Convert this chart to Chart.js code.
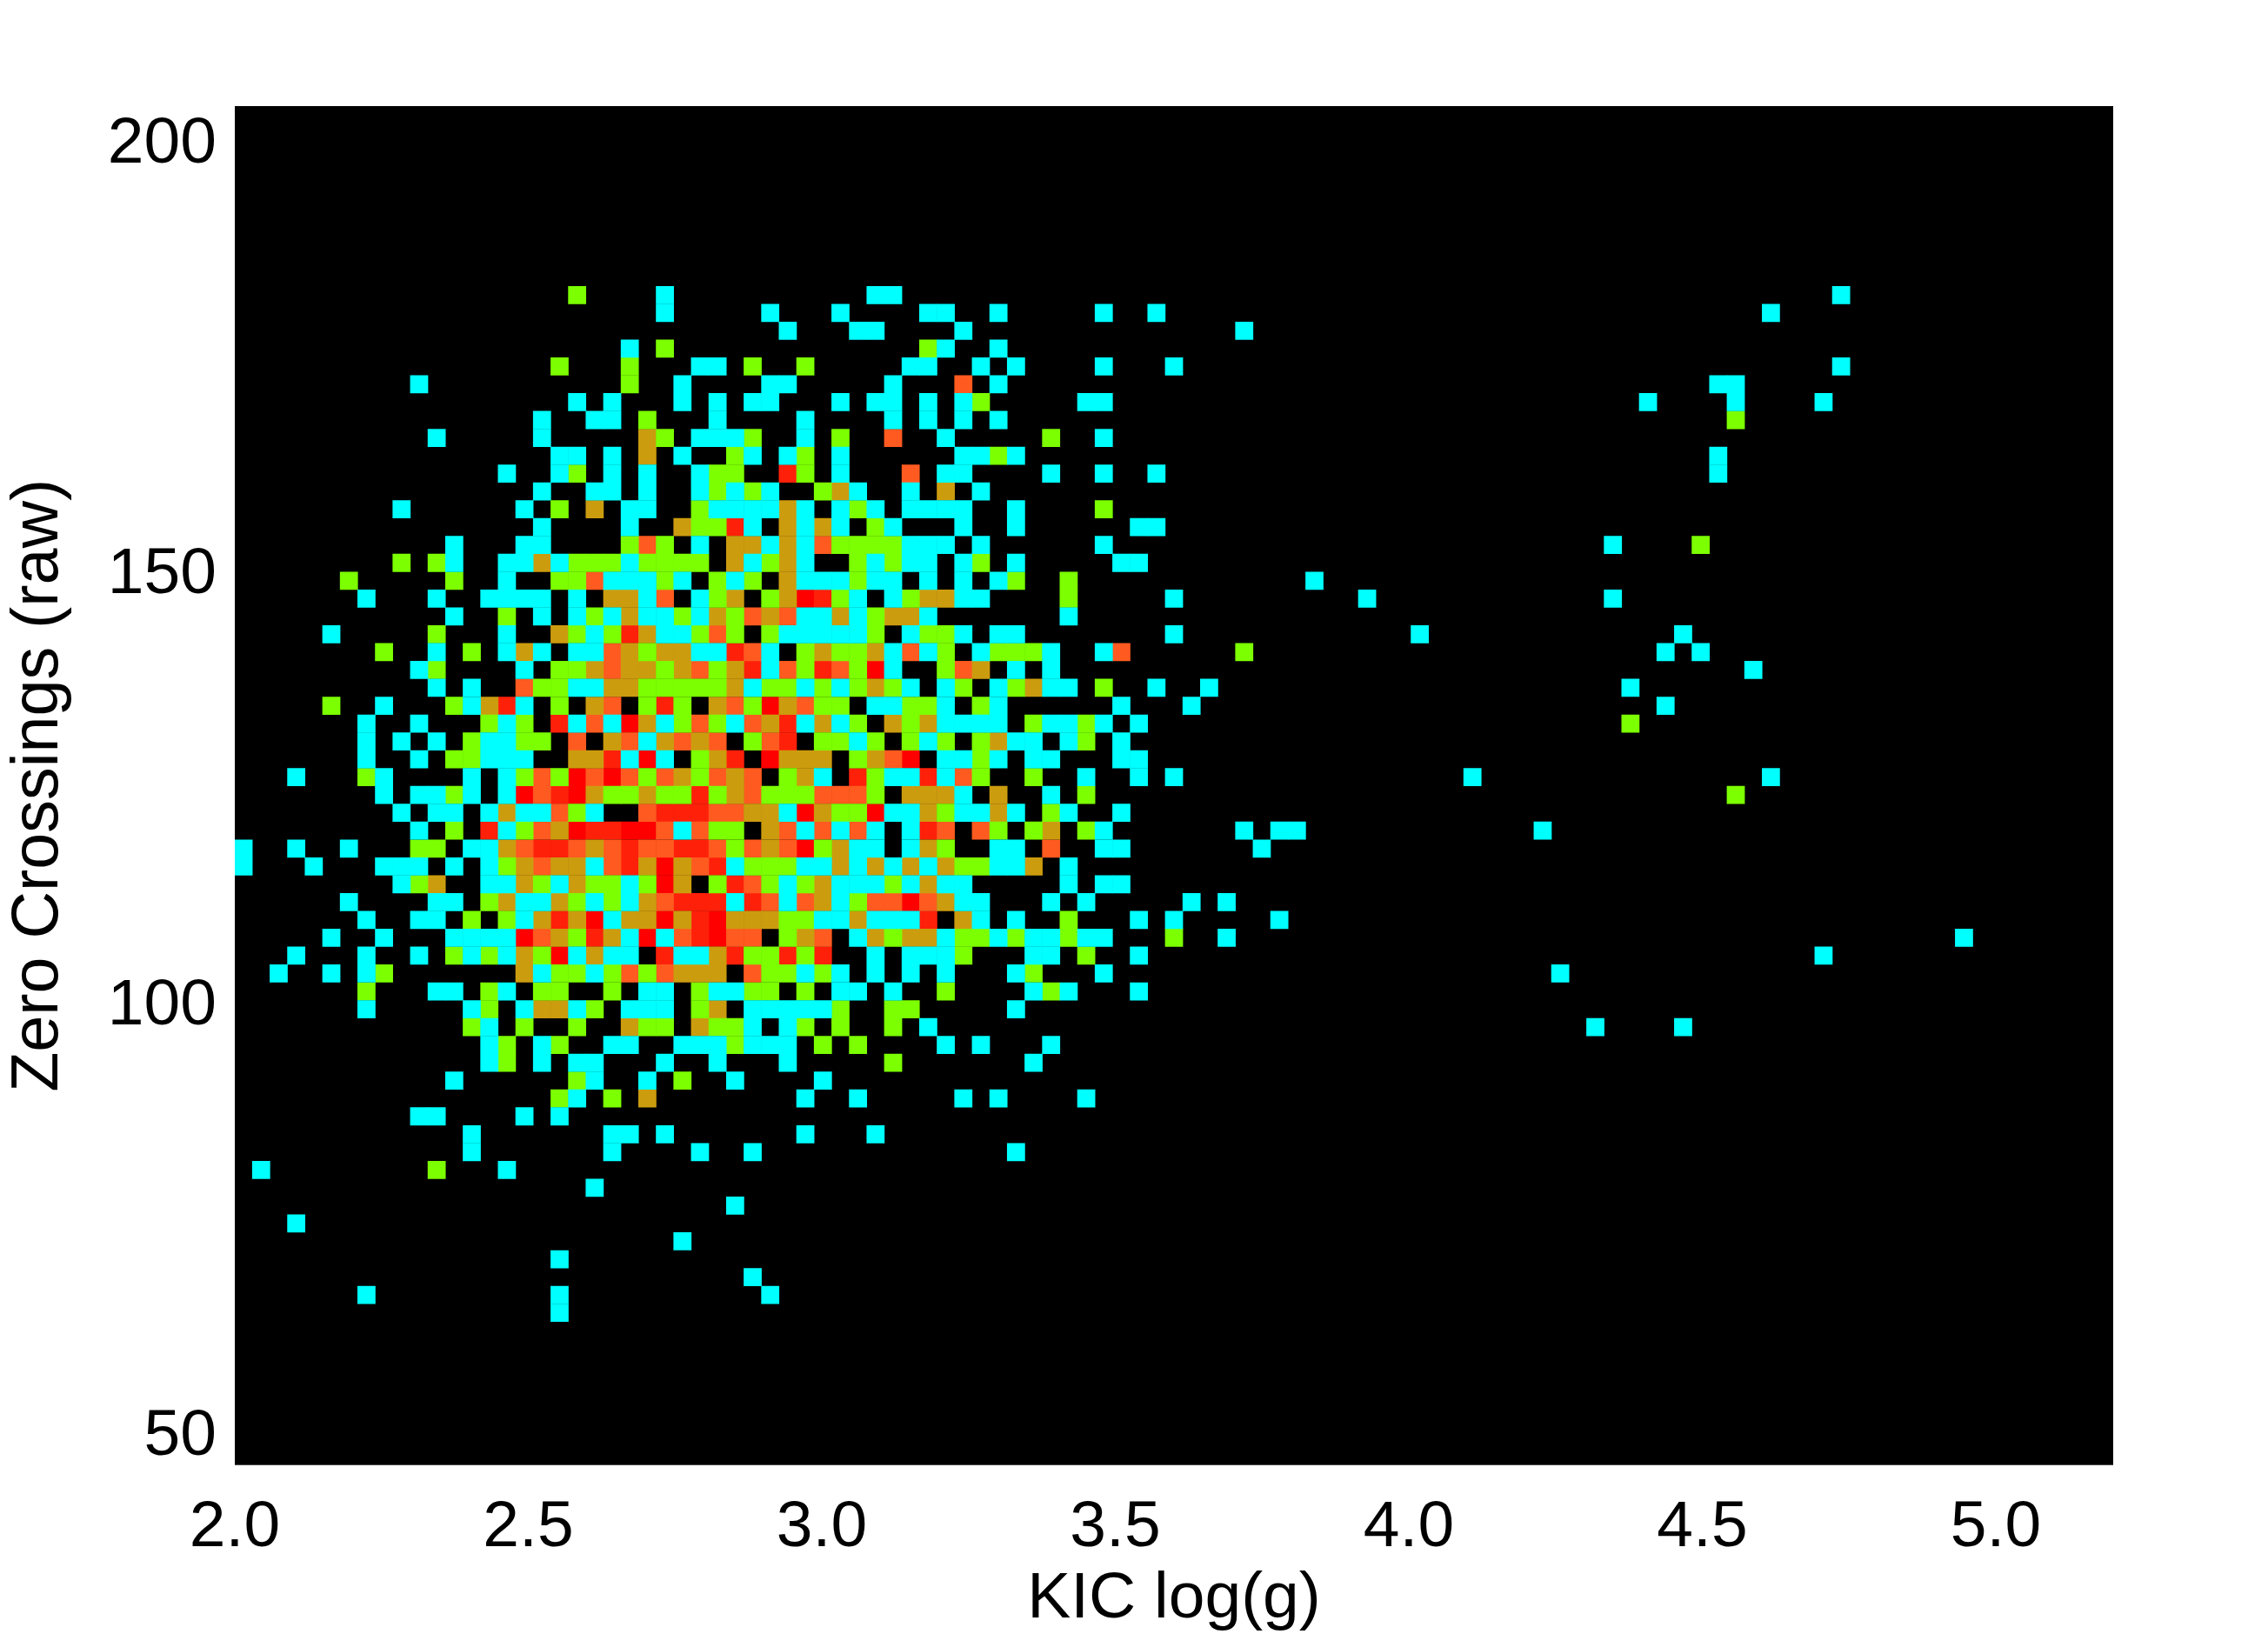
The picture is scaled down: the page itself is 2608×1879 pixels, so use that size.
<!DOCTYPE html>
<html>
<head>
<meta charset="utf-8">
<style>
    html, body { margin: 0; padding: 0; background: #fff; }
    canvas { display: block; }
</style>
<script src="https://cdn.jsdelivr.net/npm/chart.js@4/dist/chart.umd.min.js"></script>
</head>
<body>
<canvas id="chart" width="2608" height="1879"></canvas>
<script>
const xTicks = [2.0, 2.5, 3.0, 3.5, 4.0, 4.5, 5.0];
const yTicks = [50, 100, 150, 200];
const xRange = [2.0, 5.2];
const yRange = [46.77, 204.47];
const binWidth = 0.029907;
const binHeight = 2.072;
const gridTop = 204.3;

// colour level of each cell, one string per row
const firstRow = 10;
const rowCells = [
    "..... ..... ..... ....2 ....1 ..... ..... .11..",
    "..... ..... ..... ..... ....1 ..... 1...1 ....1 1..1. ....1 ..1..",
    "..... ..... ..... ..... ..... ..... .1... 11... .1... ..... ..... ..1..",
    "..... ..... ..... ..... ..1.2 ..... ..... ....2 1..1.",
    "..... ..... ..... ...2. ..2.. .11.2 ..2.. ...11 ..1.1 ....1 ...1.",
    "..... ..... 1.... ..... ..2.. 1.... 11... ..1.. .4.1.",
    "..... ..... ..... ....1 .1... 1.1.1 1...1 .11.1 .12.. ...11",
    "..... ..... ..... ..1.. 11.2. ..1.. ..1.. ..1.1 .1.1.",
    "..... ..... .1... ..1.. ...32 .1112 ..1.2 ..4.. 1.... .2..1",
    "..... ..... ..... ...11 .1.3. 1..21 .12.1 ..... .1121",
    "..... ..... ..... 1..12 .1.1. .122. .52.1 ...4. 11... .1..1 ..1..",
    "..... ..... ..... ..1.. 11.1. .1212 1..23 1..1. 3.1..",
    "..... ....1 ..... .1.2. 3.11. .2111 131.1 21.11 11..1 ....2",
    "..... ..... ..... ..1.. ..1.. 32251 .3131 .21.. .1..1 ..... .11..",
    "..... ..... ..1.. .11.. ..242 .1.33 13142 22211 1.1.. ....1",
    "..... ....2 .21.. 11312 22122 22.31 231.. 21211 .12.1 ..... 11...",
    "..... .2... ..2.. 1..22 41112 1.212 .3111 211.1 .1.12 ..2..",
    "..... ..1.. .1..1 111.1 .3314 .123. 23652 1.123 311.. ..2.. ...1.",
    "..... ..... ..1.. 2.1.1 21311 21324 34113 12331 ..... ..1..",
    "..... 1.... .2... 1..32 12531 1242. 21111 12.12 21.11 ..... ...1.",
    "..... ...2. .1.2. 131.1 14323 31154 1.232 23141 2.122 21..1 4.... ..2..",
    "..... ..... 12... .1.22 34332 34235 14254 261.. 243.1 .1...",
    "..... ..... .1.1. .4221 13322 22231 22121 2321. 12.12 311.2 ..1.. 1....",
    "..... 2..1. ..213 51.2. 34.25 2.342 63422 .1122 1.21. ..... 1...1",
    "..... ..1.. 1...2 12.51 41631 24214 35131 2.323 1111. 21121 .1...",
    "..... ..1.1 .1.21 122.4 .3413 434.2 45.22 12.21 2.231 1.12. 1....",
    "..... ..1.. 1.221 11..3 35161 .235. 6333. 2346. 1121. 11... 11...",
    "...1. ..21. ...1. 12426 46424 32434 .231. 52115 142.. 2..1. .1.1.",
    "..... ...1. 1121. 16456 32232 25234 22244 42.33 31.3. .1.2.",
    "..... ....1 .11.1 31142 1..45 55443 31632 26113 21131 .21.. 1....",
    "..... ..... 1.2.5 12436 55664 1422. 34141 41.15 4.42. 23.21 ..... ..1.1",
    "1..1. .1... 22.11 34554 34544 55424 34623 11.13 2..11 .4..1 1.... ...1.",
    "1...1 ...11 1.1.1 23433 14536 34512 22113 13131 32211 3.1..",
    "..... ....1 23..1 13213 22126 3.254 21231 11213 11... ..1.1 1....",
    "..... .1... .11.2 31132 12134 55515 41431 24464 311.. .1.1. ....1 .1...",
    "..... ..1.. 11.2. 21353 61336 35633 32211 31115 .31.1 ..2.. .1.1. ....1",
    "..... 1..1. ..111 16432 53161 45644 .234. 13233 12212 11211 ...2. .1...",
    "...1. ..1.. 1.212 13261 311.5 11352 2525. .1.11 12... 11.2. .1...",
    "..1.. 1.12. ..... .3122 12424 333.4 22121 .1.1. 1...1 2...1",
    "..... ..2.. .11.2 1.22. .2.11 .2112 2.2.1 1.1.. 2.... 121.. .1...",
    "..... ..1.. ...12 .1331 2.111 .23.1 11112 ..22. ....1",
    "..... ..... ...21 .2..2 ..322 .3221 .12.2 ..2.1",
    "..... ..... ....1 2.12. .11.. 11121 11.2. 2.... 1.1.. .1...",
    "..... ..... ....1 2.1.1 1...1 ..1.. .1... ..2.. ..... 1....",
    "..... ..... ..1.. ....2 1..1. 2..1. ...1.",
    "..... ..... ..... ...21 .2.3. ..... ..1.. 1.... .1.1. ...1.",
    "..... ..... 11... .1.1.",
    "..... ..... ...1. ..... .11.1 ..... ..1.. .1...",
    "..... ..... ...1. ..... .1... .1..1 ..... ..... ....1",
    ".1... ..... .2... 1....",
    "..... ..... ..... ..... 1....",
    "..... ..... ..... ..... ..... ...1.",
    "...1.",
    "..... ..... ..... ..... ..... 1....",
    "..... ..... ..... ...1.",
    "..... ..... ..... ..... ..... ....1",
    "..... ..1.. ..... ...1. ..... ..... 1....",
    "..... ..... ..... ...1."
];

// the sparse cells to the right of the main cloud
const farCols = [91, 87, 91, 84, 85, 80, 85, 90, 85, 84, 84, 78, 83, 61, 64, 78, 67, 82, 81, 83, 86, 79, 81, 79, 70, 87, 85, 60, 74, 98, 90, 75, 77, 82];
const farRows = [10, 11, 14, 15, 15, 16, 16, 16, 17, 19, 20, 24, 24, 26, 27, 27, 29, 29, 30, 30, 31, 32, 33, 34, 37, 37, 38, 40, 40, 46, 47, 48, 51, 51];
const farLevels = [1, 1, 1, 1, 1, 1, 1, 1, 2, 1, 1, 1, 2, 1, 1, 1, 1, 1, 1, 1, 1, 1, 1, 2, 1, 1, 2, 1, 1, 1, 1, 1, 1, 1];

const levelColors = ["#00ffff", "#7cff00", "#cc9c0f", "#ff5a20", "#ff200a", "#ff0000"];

const cellToPoint = (col, row) => ({
    x: xRange[0] + (col + 0.5) * binWidth,
    y: gridTop - (row + 0.5) * binHeight,
});

const levelPoints = levelColors.map(() => []);

rowCells.forEach((text, i) => {
    [...text.replace(/ /g, "")].forEach((ch, col) => {
        if (ch !== ".") levelPoints[Number(ch) - 1].push(cellToPoint(col, firstRow + i));
    });
});
farCols.forEach((col, i) => {
    levelPoints[farLevels[i] - 1].push(cellToPoint(col, farRows[i]));
});

// paint the plot area black behind the cells
const blackPlot = {
    id: "blackPlot",
    beforeDatasetsDraw(chart) {
        const { ctx, chartArea: a } = chart;
        ctx.save();
        ctx.fillStyle = "#000000";
        ctx.fillRect(a.left, a.top, a.right - a.left, a.bottom - a.top);
        ctx.restore();
    },
};

// marker size follows the bin size on the scales
const cellRadius = (ctx) => {
    const { x, y } = ctx.chart.scales;
    const w = Math.abs(x.getPixelForValue(binWidth) - x.getPixelForValue(0));
    const h = Math.abs(y.getPixelForValue(binHeight) - y.getPixelForValue(0));
    return ((w + h) / 2 + 0.4) / Math.SQRT2;
};

const tickFont = { family: "'Liberation Sans'", size: 75 };

new Chart(document.getElementById("chart"), {
    type: "scatter",
    data: {
        datasets: levelPoints.map((points, i) => ({
            label: String(i + 1),
            data: points,
            pointStyle: "rect",
            backgroundColor: levelColors[i],
            borderWidth: 0,
            pointRadius: cellRadius,
            pointHoverRadius: cellRadius,
        })),
    },
    options: {
        responsive: false,
        animation: false,
        layout: { padding: { top: 122, right: 178, left: 0, bottom: 0 } },
        plugins: { legend: { display: false }, tooltip: { enabled: false } },
        scales: {
            x: {
                type: "linear",
                min: xRange[0],
                max: xRange[1],
                grid: { display: false },
                border: { display: false },
                afterBuildTicks: (s) => { s.ticks = xTicks.map((value) => ({ value })); },
                afterFit: (s) => { s.height = 194.3; },
                ticks: {
                    color: "#000",
                    font: tickFont,
                    padding: 20,
                    maxRotation: 0,
                    autoSkip: false,
                    callback: (v) => v.toFixed(1),
                },
                title: {
                    display: true,
                    text: "KIC log(g)",
                    color: "#000",
                    font: { family: "'Liberation Sans'", size: 75 },
                    padding: { top: 0, bottom: -5 },
                },
            },
            y: {
                type: "linear",
                min: yRange[0],
                max: yRange[1],
                grid: { display: false },
                border: { display: false },
                afterBuildTicks: (s) => { s.ticks = yTicks.map((value) => ({ value })); },
                afterFit: (s) => { s.width = 270; },
                ticks: {
                    color: "#000",
                    font: tickFont,
                    padding: 13,
                    autoSkip: false,
                },
                title: {
                    display: true,
                    text: "Zero Crossings (raw)",
                    color: "#000",
                    font: { family: "'Liberation Sans'", size: 75.5 },
                    padding: { top: 0, bottom: 0 },
                },
            },
        },
    },
    plugins: [blackPlot],
});
</script>
</body>
</html>
